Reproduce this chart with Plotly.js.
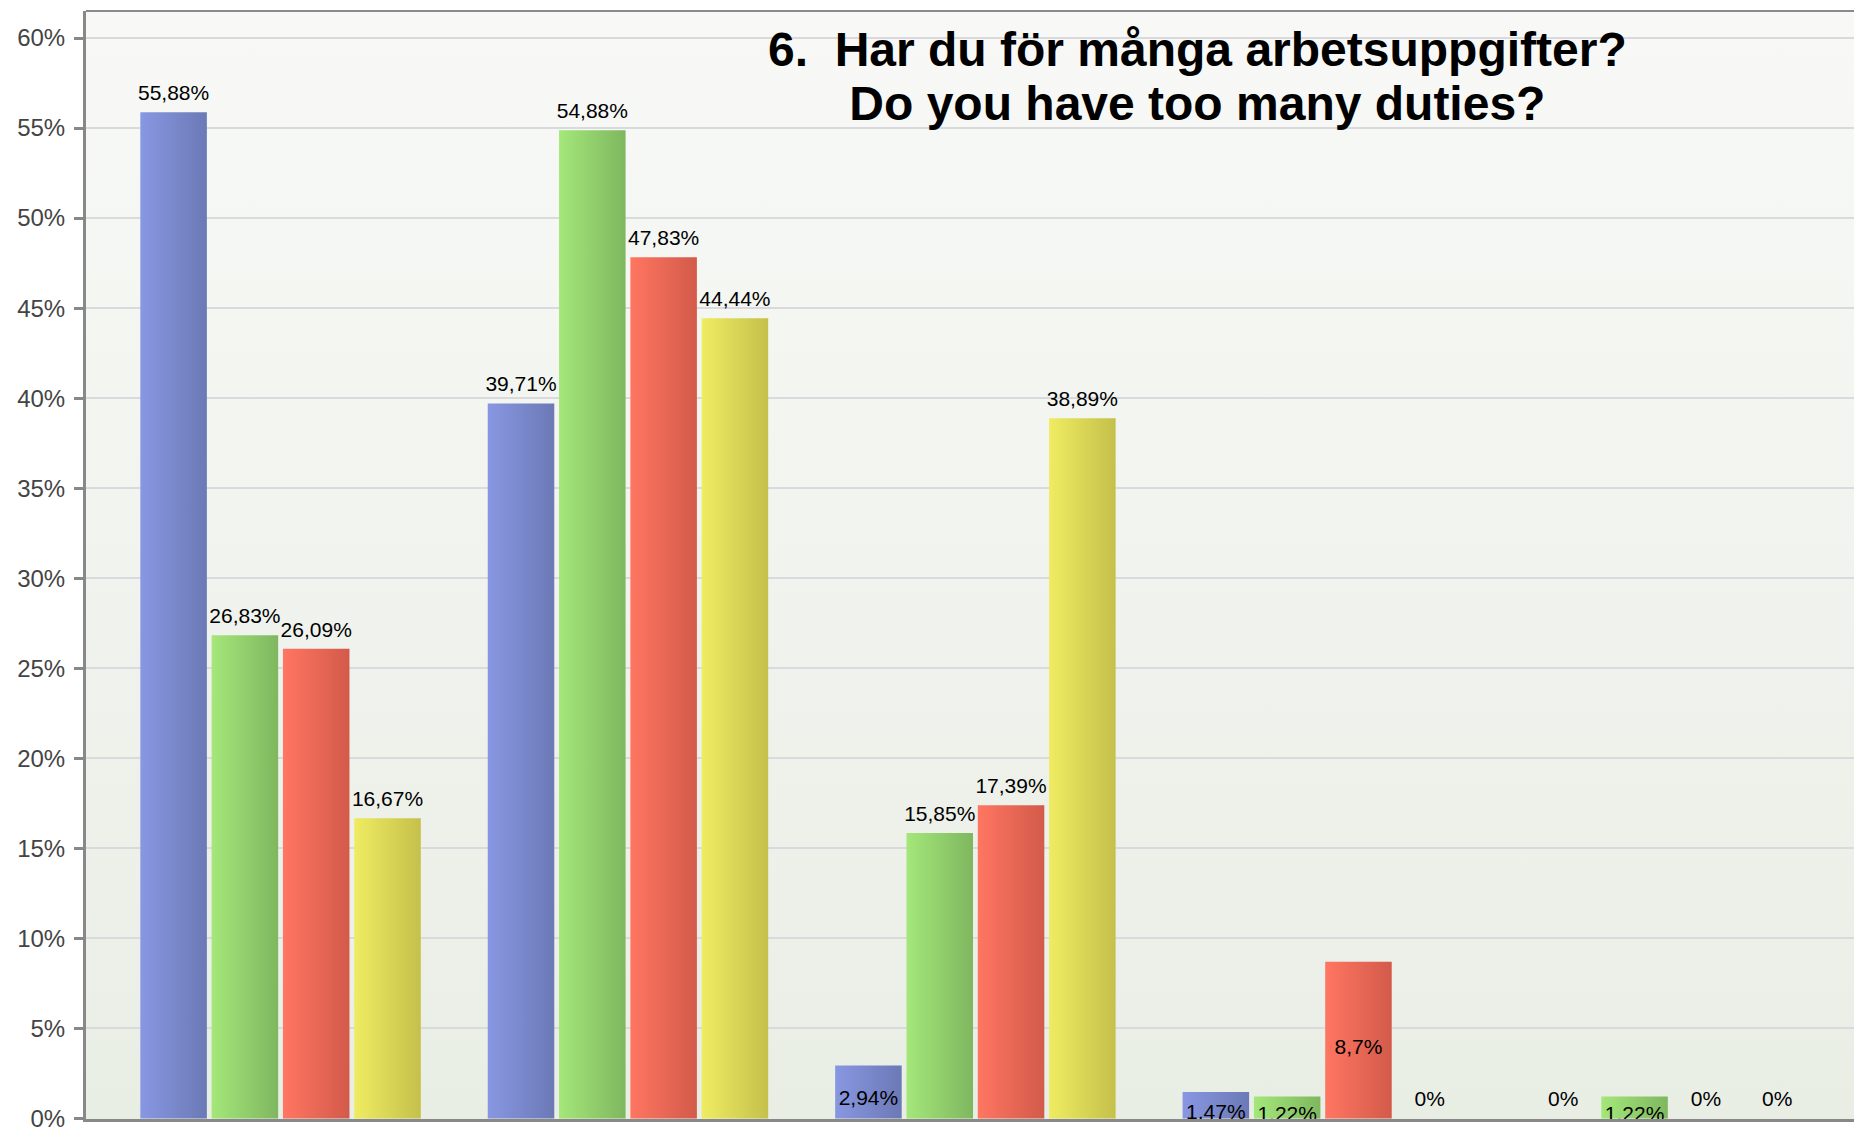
<!DOCTYPE html>
<html>
<head>
<meta charset="utf-8">
<script src="https://cdn.plot.ly/plotly-3.0.1.min.js"></script>
<style>html,body{margin:0;padding:0;background:#ffffff;}</style>
</head>
<body>
<div id="chart" style="width:1854px;height:1131px"></div>
<script>
// ---- data ----
const categories = ['Alternativ 1', 'Alternativ 2', 'Alternativ 3', 'Alternativ 4', 'Alternativ 5'];
const seriesNames = ['Serie 1', 'Serie 2', 'Serie 3', 'Serie 4'];
const blueValues = [55.88, 39.71, 2.94, 1.47, 0];
const greenValues = [26.83, 54.88, 15.85, 1.22, 1.22];
const redValues = [26.09, 47.83, 17.39, 8.7, 0];
const yellowValues = [16.67, 44.44, 38.89, 0, 0];
const yTickValues = [0, 5, 10, 15, 20, 25, 30, 35, 40, 45, 50, 55, 60];
const yTickLabels = ['0%', '5%', '10%', '15%', '20%', '25%', '30%', '35%', '40%', '45%', '50%', '55%', '60%'];
const titleText = '6.\u00a0 Har du för många arbetsuppgifter?<br>Do you have too many duties?';

// ---- styles ----
const gradStops = [
  ['#8897e2', '#6c79b6'],
  ['#a4e77a', '#7fb75f'],
  ['#ff7662', '#d35a4a'],
  ['#efec62', '#c4c04b']
];
const baseColors = ['#7a88cc', '#91cf6c', '#ea6856', '#dad656'];
const FONT = 'Liberation Sans, Arial, sans-serif';

const fmt = v => String(v).replace('.', ',') + '%';
const allSeries = [blueValues, greenValues, redValues, yellowValues];

const traces = allSeries.map((vals, i) => ({
  type: 'bar',
  name: seriesNames[i],
  x: categories,
  y: vals,
  text: vals.map(fmt),
  textposition: vals.map(v => (v === 0 || v >= 10) ? 'outside' : 'inside'),
  insidetextanchor: 'middle',
  constraintext: 'none',
  textfont: {family: FONT, size: 21, color: '#000000'},
  insidetextfont: {family: FONT, size: 21, color: '#000000'},
  outsidetextfont: {family: FONT, size: 21, color: '#000000'},
  marker: {color: baseColors[i], line: {width: 0}},
  hoverinfo: 'skip'
}));

const layout = {
  width: 1854,
  height: 1131,
  margin: {l: 86, r: 0, t: 11, b: 12, pad: 0},
  paper_bgcolor: '#ffffff',
  plot_bgcolor: '#f1f4ef',
  barmode: 'group',
  bargap: 0.179,
  bargroupgap: 0.067,
  showlegend: false,
  title: {
    text: titleText,
    font: {family: FONT, size: 48, weight: 'bold', color: '#000000'},
    x: 0.6286, xref: 'paper', xanchor: 'center',
    y: 0.9416, yref: 'container', yanchor: 'top'
  },
  xaxis: {
    type: 'category',
    range: [-0.56, 4.529],
    showticklabels: false,
    showgrid: false,
    zeroline: false,
    showline: true,
    linecolor: '#888888',
    linewidth: 3,
    ticks: ''
  },
  yaxis: {
    range: [-0.03, 61.5],
    tickmode: 'array',
    tickvals: yTickValues,
    ticktext: yTickLabels,
    ticklabeloverflow: 'allow',
    showgrid: true,
    gridcolor: '#d9d9de',
    gridwidth: 2,
    zeroline: false,
    showline: true,
    linecolor: '#888888',
    linewidth: 3,
    ticks: 'outside',
    ticklen: 9,
    tickwidth: 3,
    tickcolor: '#888888',
    ticklabelstandoff: 4,
    tickfont: {family: FONT, size: 24, color: '#444444'}
  },
  shapes: [
    {type: 'line', xref: 'paper', yref: 'paper', x0: 0, x1: 1, y0: 1, y1: 1,
     line: {color: '#8a8a8a', width: 2}, layer: 'above'}
  ]
};

Plotly.newPlot('chart', traces, layout, {staticPlot: true, displayModeBar: false}).then(gd => {
  const ns = 'http://www.w3.org/2000/svg';
  const svg = gd.querySelector('.main-svg');
  let defs = svg.querySelector('defs');
  if (!defs) { defs = document.createElementNS(ns, 'defs'); svg.insertBefore(defs, svg.firstChild); }
  function addGrad(id, c0, c1, vertical) {
    const g = document.createElementNS(ns, 'linearGradient');
    g.setAttribute('id', id);
    g.setAttribute('x1', '0'); g.setAttribute('y1', '0');
    g.setAttribute('x2', vertical ? '0' : '1'); g.setAttribute('y2', vertical ? '1' : '0');
    [[0, c0], [1, c1]].forEach(([o, c]) => {
      const s = document.createElementNS(ns, 'stop');
      s.setAttribute('offset', o); s.setAttribute('stop-color', c);
      g.appendChild(s);
    });
    defs.appendChild(g);
  }
  gradStops.forEach((s, i) => addGrad('barGrad' + i, s[0], s[1], false));
  addGrad('plotBgGrad', '#f8f9f7', '#e9eee5', true);
  gd.querySelectorAll('.barlayer .trace').forEach((tr, i) => {
    tr.querySelectorAll('.point path').forEach(p => { p.style.fill = 'url(#barGrad' + i + ')'; });
  });
  const bg = gd.querySelector('.bglayer .bg');
  if (bg) bg.style.fill = 'url(#plotBgGrad)';
  // a little more room between bar tops and their outside labels
  gd.querySelectorAll('.barlayer text.bartext-outside').forEach(t => {
    const tf = t.getAttribute('transform') || '';
    t.setAttribute('transform', 'translate(0,-5) ' + tf);
  });
  // inside labels sit slightly below the bar centre in the reference
  gd.querySelectorAll('.barlayer text.bartext-inside').forEach(t => {
    const tf = t.getAttribute('transform') || '';
    t.setAttribute('transform', 'translate(0,6) ' + tf);
  });
  // tighter line spacing in the two-line title
  gd.querySelectorAll('.gtitle tspan.line').forEach(ts => {
    const dy = ts.getAttribute('dy');
    if (dy && /^1\.3em$/.test(dy)) ts.setAttribute('dy', '1.13em');
  });
});
</script>
</body>
</html>
